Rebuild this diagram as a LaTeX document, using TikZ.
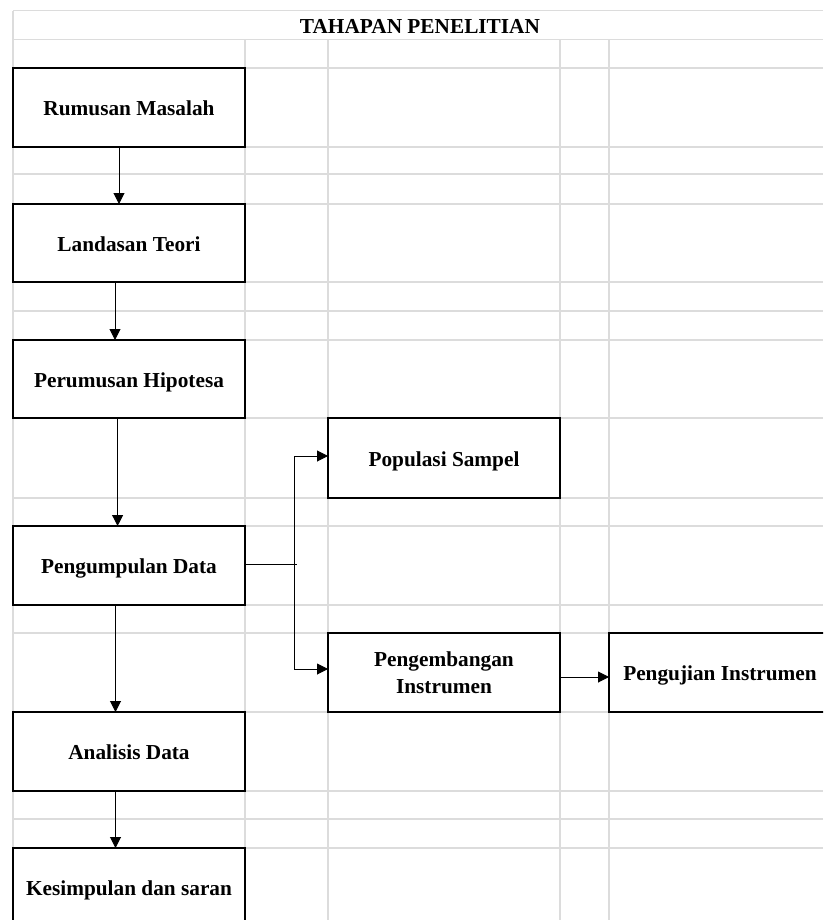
\documentclass[tikz,border=0pt]{standalone}
\usepackage{fontspec}
\setmainfont{Liberation Serif}
\usetikzlibrary{arrows.meta}
\definecolor{gridgray}{RGB}{220,220,220}
\tikzset{
  gridline/.style={draw=gridgray, line width=1.2pt},
  stepbox/.style={draw=black, fill=white, line width=1.6pt, inner sep=0pt, outer sep=0pt,
     minimum width=232pt, align=center,
     font=\fontsize{21.3}{27}\selectfont\bfseries},
  oneline/.style={text height=16.6pt, text depth=0pt},
  arr/.style={draw=black, line width=1pt, -{Triangle[length=11pt,width=11pt]}},
  ln/.style={draw=black, line width=1pt},
}
\begin{document}
\begin{tikzpicture}[x=1pt,y=-1pt]
\clip (0,0) rectangle (823,920);
\fill[white] (0,0) rectangle (823,920);
% grid
\foreach \yy in {10.7,39.3,68,147,204,282,311,340,418,498,526,605,633,712,791,819,848}
  \draw[gridline] (13,\yy) -- (823,\yy);
\draw[draw=gridgray, line width=2pt] (13,174.5) -- (823,174.5);
\draw[gridline] (13,10.7) -- (13,920);
\foreach \xx in {245,328,560,609}
  \draw[gridline] (\xx,39.3) -- (\xx,920);
% title
\node[font=\fontsize{21.3}{27}\selectfont\bfseries] (title) at (420,26) {TAHAPAN PENELITIAN};
% boxes
\node[stepbox, oneline, minimum height=79pt] (rm) at (129,107.5) {Rumusan Masalah};
\node[stepbox, oneline, minimum height=78pt] (lt) at (129,243) {Landasan Teori};
\node[stepbox, oneline, minimum height=78pt] (ph) at (129,379) {Perumusan Hipotesa};
\node[stepbox, oneline, minimum height=79pt] (pd) at (129,565.5) {Pengumpulan Data};
\node[stepbox, oneline, minimum height=79pt] (ad) at (129,751.5) {Analisis Data};
\node[stepbox, oneline, minimum height=79pt] (ks) at (129,887.5) {Kesimpulan dan saran};
\node[stepbox, oneline, minimum height=80pt] (ps) at (444,458) {Populasi Sampel};
\node[stepbox, minimum height=79pt] (pi) at (444,672.5) {Pengembangan\\Instrumen};
\node[stepbox, oneline, minimum height=79pt, minimum width=222pt] (uj) at (720,672.5) {Pengujian Instrumen};
% connectors
\draw[arr] ([xshift=-10pt]rm.south) -- ([xshift=-10pt]lt.north);
\draw[arr] ([xshift=-14pt]lt.south) -- ([xshift=-14pt]ph.north);
\draw[arr] ([xshift=-11.4pt]ph.south) -- ([xshift=-11.4pt]pd.north);
\draw[arr] ([xshift=-13.5pt]pd.south) -- ([xshift=-13.5pt]ad.north);
\draw[arr] ([xshift=-13.5pt]ad.south) -- ([xshift=-13.5pt]ks.north);
\coordinate (j) at (294,564.3);
\coordinate (je) at (297,564.3);
\draw[ln] ([yshift=1.2pt]pd.east) -- (je);
\draw[arr] (j) |- ([yshift=2pt]ps.west);
\draw[arr] (j) |- ([yshift=3.5pt]pi.west);
\draw[arr] ([yshift=-4.5pt]pi.east) -- ([yshift=-4.5pt]uj.west);
\end{tikzpicture}
\end{document}
